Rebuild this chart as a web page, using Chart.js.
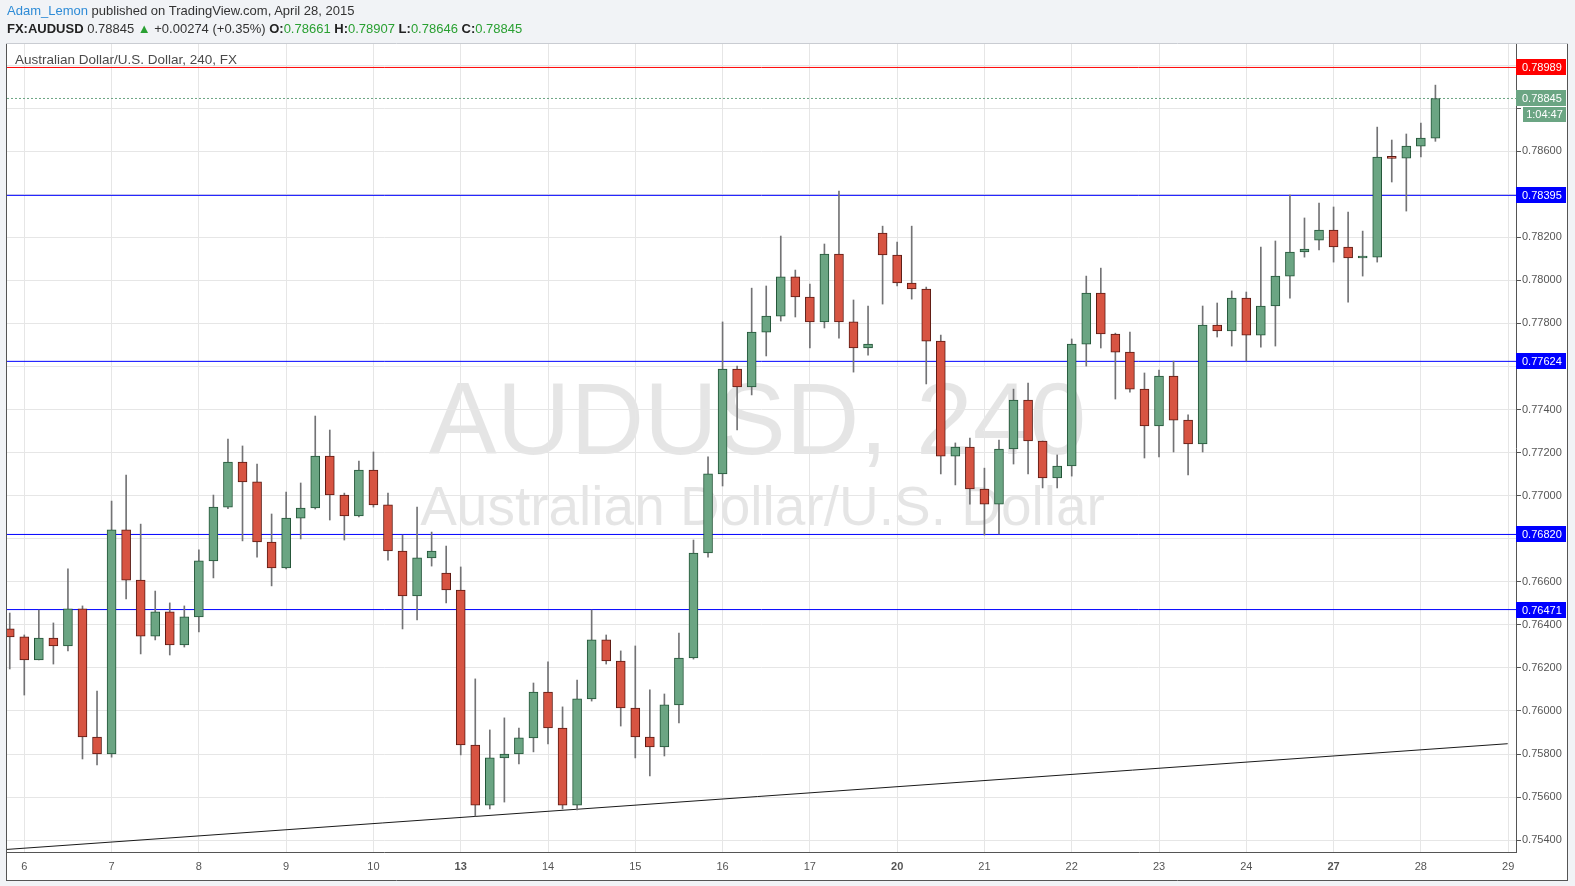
<!DOCTYPE html>
<html>
<head>
<meta charset="utf-8">
<script src="https://cdn.jsdelivr.net/npm/chart.js@4.4.1/dist/chart.umd.min.js"></script>
<style>
  html, body { margin:0; padding:0; background:#f1f3f6; width:1575px; height:886px; overflow:hidden; }
  #c { position:absolute; left:0; top:0; }
  .hdr { position:absolute; left:7px; font-family:"Liberation Sans", Arial, sans-serif; font-size:13px; color:#333; white-space:nowrap; }
  #h1 { top:3px; }
  #h2 { top:21px; }
  .blue { color:#2d8bd6; }
  .b { font-weight:bold; color:#222; }
  .g { color:#2aa032; }
  #ptitle { position:absolute; left:15px; top:52px; font-family:"Liberation Sans", Arial, sans-serif; font-size:13.5px; color:#4a4a4a; white-space:nowrap; }
</style>
</head>
<body>
<canvas id="c" width="1575" height="886"></canvas>
<div class="hdr" id="h1"><span class="blue">Adam_Lemon</span> published on TradingView.com, April 28, 2015</div>
<div class="hdr" id="h2"><span class="b">FX:AUDUSD</span> 0.78845 <span class="g">▲</span> +0.00274 (+0.35%) <span class="b">O:</span><span class="g">0.78661</span> <span class="b">H:</span><span class="g">0.78907</span> <span class="b">L:</span><span class="g">0.78646</span> <span class="b">C:</span><span class="g">0.78845</span></div>
<div id="ptitle">Australian Dollar/U.S. Dollar, 240, FX</div>
<script>
// ---------- DATA ----------
const dayLabels = ['6','7','8','9','10','13','14','15','16','17','20','21','22','23','24','27','28','29'];
const dayTickIndex = [1,7,13,19,25,31,37,43,49,55,61,67,73,79,85,91,97,103];
const weekStartLabels = ['13','20','27'];

const opens = [0.76381,0.76344,0.76237,0.76339,0.76302,0.76474,0.75879,0.75800,0.76841,0.76608,
0.76348,0.76460,0.76307,0.76437,0.76697,0.76947,0.77156,0.77064,0.76785,0.76664,
0.76896,0.76943,0.77184,0.77003,0.76906,0.77119,0.76957,0.76743,0.76534,0.76711,
0.76641,0.76562,0.75842,0.75563,0.75782,0.75800,0.75875,0.76088,0.75921,0.75563,
0.76056,0.76330,0.76232,0.76014,0.75879,0.75833,0.76028,0.76246,0.76734,0.77101,
0.77588,0.77505,0.77760,0.77834,0.78016,0.77923,0.77807,0.78122,0.77807,0.77686,
0.78220,0.78118,0.77988,0.77960,0.77718,0.77184,0.77226,0.77031,0.76961,0.77217,
0.77444,0.77254,0.77082,0.77138,0.77704,0.77941,0.77751,0.77667,0.77495,0.77324,
0.77556,0.77351,0.77240,0.77793,0.77765,0.77918,0.77746,0.77881,0.78020,0.78132,
0.78187,0.78234,0.78155,0.78104,0.78108,0.78568,0.78568,0.78624,0.78661];

const highs = [0.76455,0.76353,0.76469,0.76409,0.76660,0.76488,0.76093,0.76975,0.77096,0.76868,
0.76557,0.76502,0.76488,0.76748,0.77003,0.77263,0.77231,0.77147,0.76915,0.77017,
0.77059,0.77370,0.77305,0.77012,0.77161,0.77203,0.77012,0.76817,0.76947,0.76831,
0.76766,0.76669,0.76149,0.75912,0.75968,0.75921,0.76130,0.76228,0.76019,0.76144,
0.76469,0.76353,0.76279,0.76302,0.76098,0.76079,0.76362,0.76794,0.77180,0.77807,
0.77602,0.77964,0.77974,0.78206,0.78048,0.77983,0.78169,0.78415,0.77909,0.77881,
0.78252,0.78178,0.78252,0.77969,0.77746,0.77245,0.77268,0.77128,0.77258,0.77495,
0.77523,0.77254,0.77189,0.77728,0.78020,0.78057,0.77755,0.77760,0.77570,0.77584,
0.77625,0.77375,0.77881,0.77895,0.77951,0.77946,0.78155,0.78183,0.78396,0.78290,
0.78359,0.78341,0.78317,0.78229,0.78712,0.78652,0.78680,0.78731,0.78907];

const lows = [0.76195,0.76074,0.76237,0.76218,0.76279,0.75777,0.75749,0.75786,0.76520,0.76265,
0.76330,0.76260,0.76297,0.76367,0.76618,0.76940,0.76790,0.76715,0.76581,0.76660,
0.76799,0.76938,0.76887,0.76794,0.76901,0.76947,0.76701,0.76381,0.76423,0.76673,
0.76502,0.75796,0.75512,0.75545,0.75577,0.75754,0.75810,0.75847,0.75545,0.75540,
0.76046,0.76218,0.75930,0.75782,0.75698,0.75791,0.75944,0.76241,0.76715,0.77045,
0.77305,0.77468,0.77649,0.77811,0.77830,0.77686,0.77779,0.77732,0.77574,0.77653,
0.77890,0.77974,0.77913,0.77519,0.77101,0.77050,0.76961,0.76817,0.76822,0.77147,
0.77101,0.77036,0.77036,0.77091,0.77602,0.77686,0.77449,0.77481,0.77175,0.77180,
0.77203,0.77096,0.77203,0.77737,0.77695,0.77625,0.77690,0.77695,0.77918,0.78108,
0.78141,0.78085,0.77899,0.78020,0.78085,0.78457,0.78322,0.78573,0.78646];

const closes = [0.76344,0.76237,0.76339,0.76302,0.76474,0.75879,0.75800,0.76841,0.76608,0.76348,
0.76460,0.76307,0.76437,0.76697,0.76947,0.77156,0.77064,0.76785,0.76664,0.76896,
0.76943,0.77184,0.77003,0.76906,0.77119,0.76957,0.76743,0.76534,0.76711,0.76743,
0.76562,0.75842,0.75563,0.75782,0.75800,0.75875,0.76088,0.75921,0.75563,0.76056,
0.76330,0.76232,0.76014,0.75879,0.75833,0.76028,0.76246,0.76734,0.77101,0.77588,
0.77505,0.77760,0.77834,0.78016,0.77923,0.77807,0.78122,0.77807,0.77686,0.77704,
0.78118,0.77988,0.77960,0.77718,0.77184,0.77226,0.77031,0.76961,0.77217,0.77444,
0.77254,0.77082,0.77138,0.77704,0.77941,0.77751,0.77667,0.77495,0.77324,0.77556,
0.77351,0.77240,0.77793,0.77765,0.77918,0.77746,0.77881,0.78020,0.78132,0.78146,
0.78234,0.78155,0.78104,0.78105,0.78573,0.78567,0.78624,0.78661,0.78845];

const priceTicks = [0.754,0.756,0.758,0.760,0.762,0.764,0.766,0.768,0.770,0.772,0.774,0.776,0.778,0.780,0.782,0.784,0.786,0.788,0.790];
const resistanceRed = 0.78989;
const levelsBlue = [0.78395, 0.77624, 0.76820, 0.76471];
const lastPrice = 0.78845;
const countdown = '1:04:47';
const trendFrom = { x: -0.189, y: 0.75357 };
const trendTo = { x: 102.97, y: 0.75848 };
const xRange = [-0.189, 103.54];
const yRange = [0.75345, 0.79098];

// ---------- STYLE ----------
const UP = '#6ba583', UP_B = '#225437', DN = '#d75442', DN_B = '#5b1a13', WICK = '#737375';
const FONT = '"Liberation Sans", Arial, sans-serif';

const idx = opens.map((_, i) => i);
const isUp = idx.map(i => closes[i] >= opens[i]);

function hLine(v, color, dash, order) {
  return { type:'line', data:[{x:xRange[0], y:v},{x:xRange[1], y:v}], borderColor:color, borderWidth:1,
           borderDash:dash||[], pointRadius:0, fill:false, tension:0, order:order||3 };
}

const datasets = [
  { type:'bar', label:'body', data: idx.map(i => ({x:i, y:[opens[i], closes[i]]})),
    backgroundColor: idx.map(i => isUp[i] ? UP : DN), borderColor: idx.map(i => isUp[i] ? UP_B : DN_B),
    borderWidth:1, borderSkipped:false, barThickness:9, grouped:false, minBarLength:2, order:1 },
  { type:'bar', label:'wick', data: idx.map(i => ({x:i, y:[lows[i], highs[i]]})),
    backgroundColor: WICK, borderWidth:0, barThickness:1, grouped:false, order:2 },
  hLine(resistanceRed, '#ff0000'),
  ...levelsBlue.map(v => hLine(v, '#0000ff')),
  hLine(lastPrice, UP, [2,2]),
  { type:'line', data:[trendFrom, trendTo], borderColor:'#1a1a1a', borderWidth:1, pointRadius:0, fill:false, tension:0, order:3 }
];

const specialLevels = [resistanceRed, lastPrice, ...levelsBlue];

const framePlugin = {
  id:'frame',
  beforeDraw(chart) {
    const ctx = chart.ctx, a = chart.chartArea;
    ctx.save();
    ctx.fillStyle = '#f1f3f6'; ctx.fillRect(0,0,chart.width,chart.height);
    ctx.fillStyle = '#ffffff'; ctx.fillRect(6, 43, 1562, 838);
    // watermark
    const cx = (a.left + a.right) / 2 - 4, cy = (a.top + a.bottom) / 2;
    ctx.fillStyle = 'rgba(0,0,0,0.1)';
    ctx.textAlign = 'center'; ctx.textBaseline = 'alphabetic';
    ctx.font = '102px ' + FONT; ctx.fillText('AUDUSD, 240', cx, cy + 6);
    ctx.font = '55px ' + FONT; ctx.fillText('Australian Dollar/U.S. Dollar', cx + 5, cy + 77);
    ctx.restore();
  },
  afterDraw(chart) {
    const ctx = chart.ctx, a = chart.chartArea, ys = chart.scales.y;
    ctx.save();
    // price label boxes
    ctx.font = '11px ' + FONT; ctx.textBaseline = 'middle'; ctx.textAlign = 'left';
    const box = (v, color) => {
      const py = Math.round(ys.getPixelForValue(v));
      ctx.fillStyle = color; ctx.fillRect(a.right, py - 8, 50, 16);
      ctx.fillStyle = '#ffffff'; ctx.fillText(v.toFixed(5), a.right + 6, py + 0.5);
      return py;
    };
    box(resistanceRed, '#ff0000');
    levelsBlue.forEach(v => box(v, '#0000ff'));
    const gy = box(lastPrice, UP);
    ctx.fillStyle = UP; ctx.fillRect(a.right + 7, gy + 9, 43, 15);
    ctx.fillStyle = '#ffffff'; ctx.textAlign = 'center'; ctx.fillText(countdown, a.right + 28.5, gy + 16.5);
    // frame borders
    ctx.strokeStyle = '#555'; ctx.lineWidth = 1;
    ctx.beginPath();
    ctx.moveTo(6.5, 43); ctx.lineTo(6.5, 881);
    ctx.moveTo(1567.5, 43); ctx.lineTo(1567.5, 881);
    ctx.moveTo(6, 880.5); ctx.lineTo(1568, 880.5);
    ctx.stroke();
    ctx.strokeStyle = '#c9ccd2';
    ctx.beginPath(); ctx.moveTo(6, 43.5); ctx.lineTo(1568, 43.5); ctx.stroke();
    ctx.restore();
  }
};

new Chart(document.getElementById('c'), {
  type:'bar',
  data:{ datasets },
  plugins:[framePlugin],
  options:{
    responsive:false, animation:false, devicePixelRatio:1,
    layout:{ padding:{ left:7, top:44, right:7, bottom:5 } },
    plugins:{ legend:{display:false}, tooltip:{enabled:false}, title:{display:false} },
    scales:{
      x:{
        type:'linear', min:xRange[0], max:xRange[1], offset:false,
        grid:{ color:'#e6e6e6', offset:false, drawTicks:false },
        border:{ display:true, color:'#555' },
        afterBuildTicks(s){ s.ticks = dayTickIndex.map(v => ({value:v})); },
        afterFit(s){ s.height = 29; s.paddingLeft = 0; s.paddingRight = 0; },
        ticks:{
          autoSkip:false, maxRotation:0, padding:8, color:'#555',
          font:(c) => ({ family:FONT, size:11, weight: (c.tick && weekStartLabels.includes(dayLabels[dayTickIndex.indexOf(c.tick.value)])) ? 'bold' : 'normal' }),
          callback:(v) => { const k = dayTickIndex.indexOf(v); return k >= 0 ? dayLabels[k] : ''; }
        }
      },
      y:{
        type:'linear', position:'right', min:yRange[0], max:yRange[1], beginAtZero:false,
        grid:{ color:'#e6e6e6', tickColor:'#555', tickLength:5 },
        border:{ display:true, color:'#555' },
        afterBuildTicks(s){ s.ticks = priceTicks.map(v => ({value:v})); },
        afterFit(s){ s.width = 52; s.paddingTop = 0; s.paddingBottom = 0; },
        ticks:{
          padding:1, color:'#555', font:{ family:FONT, size:11 },
          callback:(v) => specialLevels.some(l => Math.abs(l - v) < 0.0005) ? '' : v.toFixed(5)
        }
      }
    }
  }
});
</script>
</body>
</html>
